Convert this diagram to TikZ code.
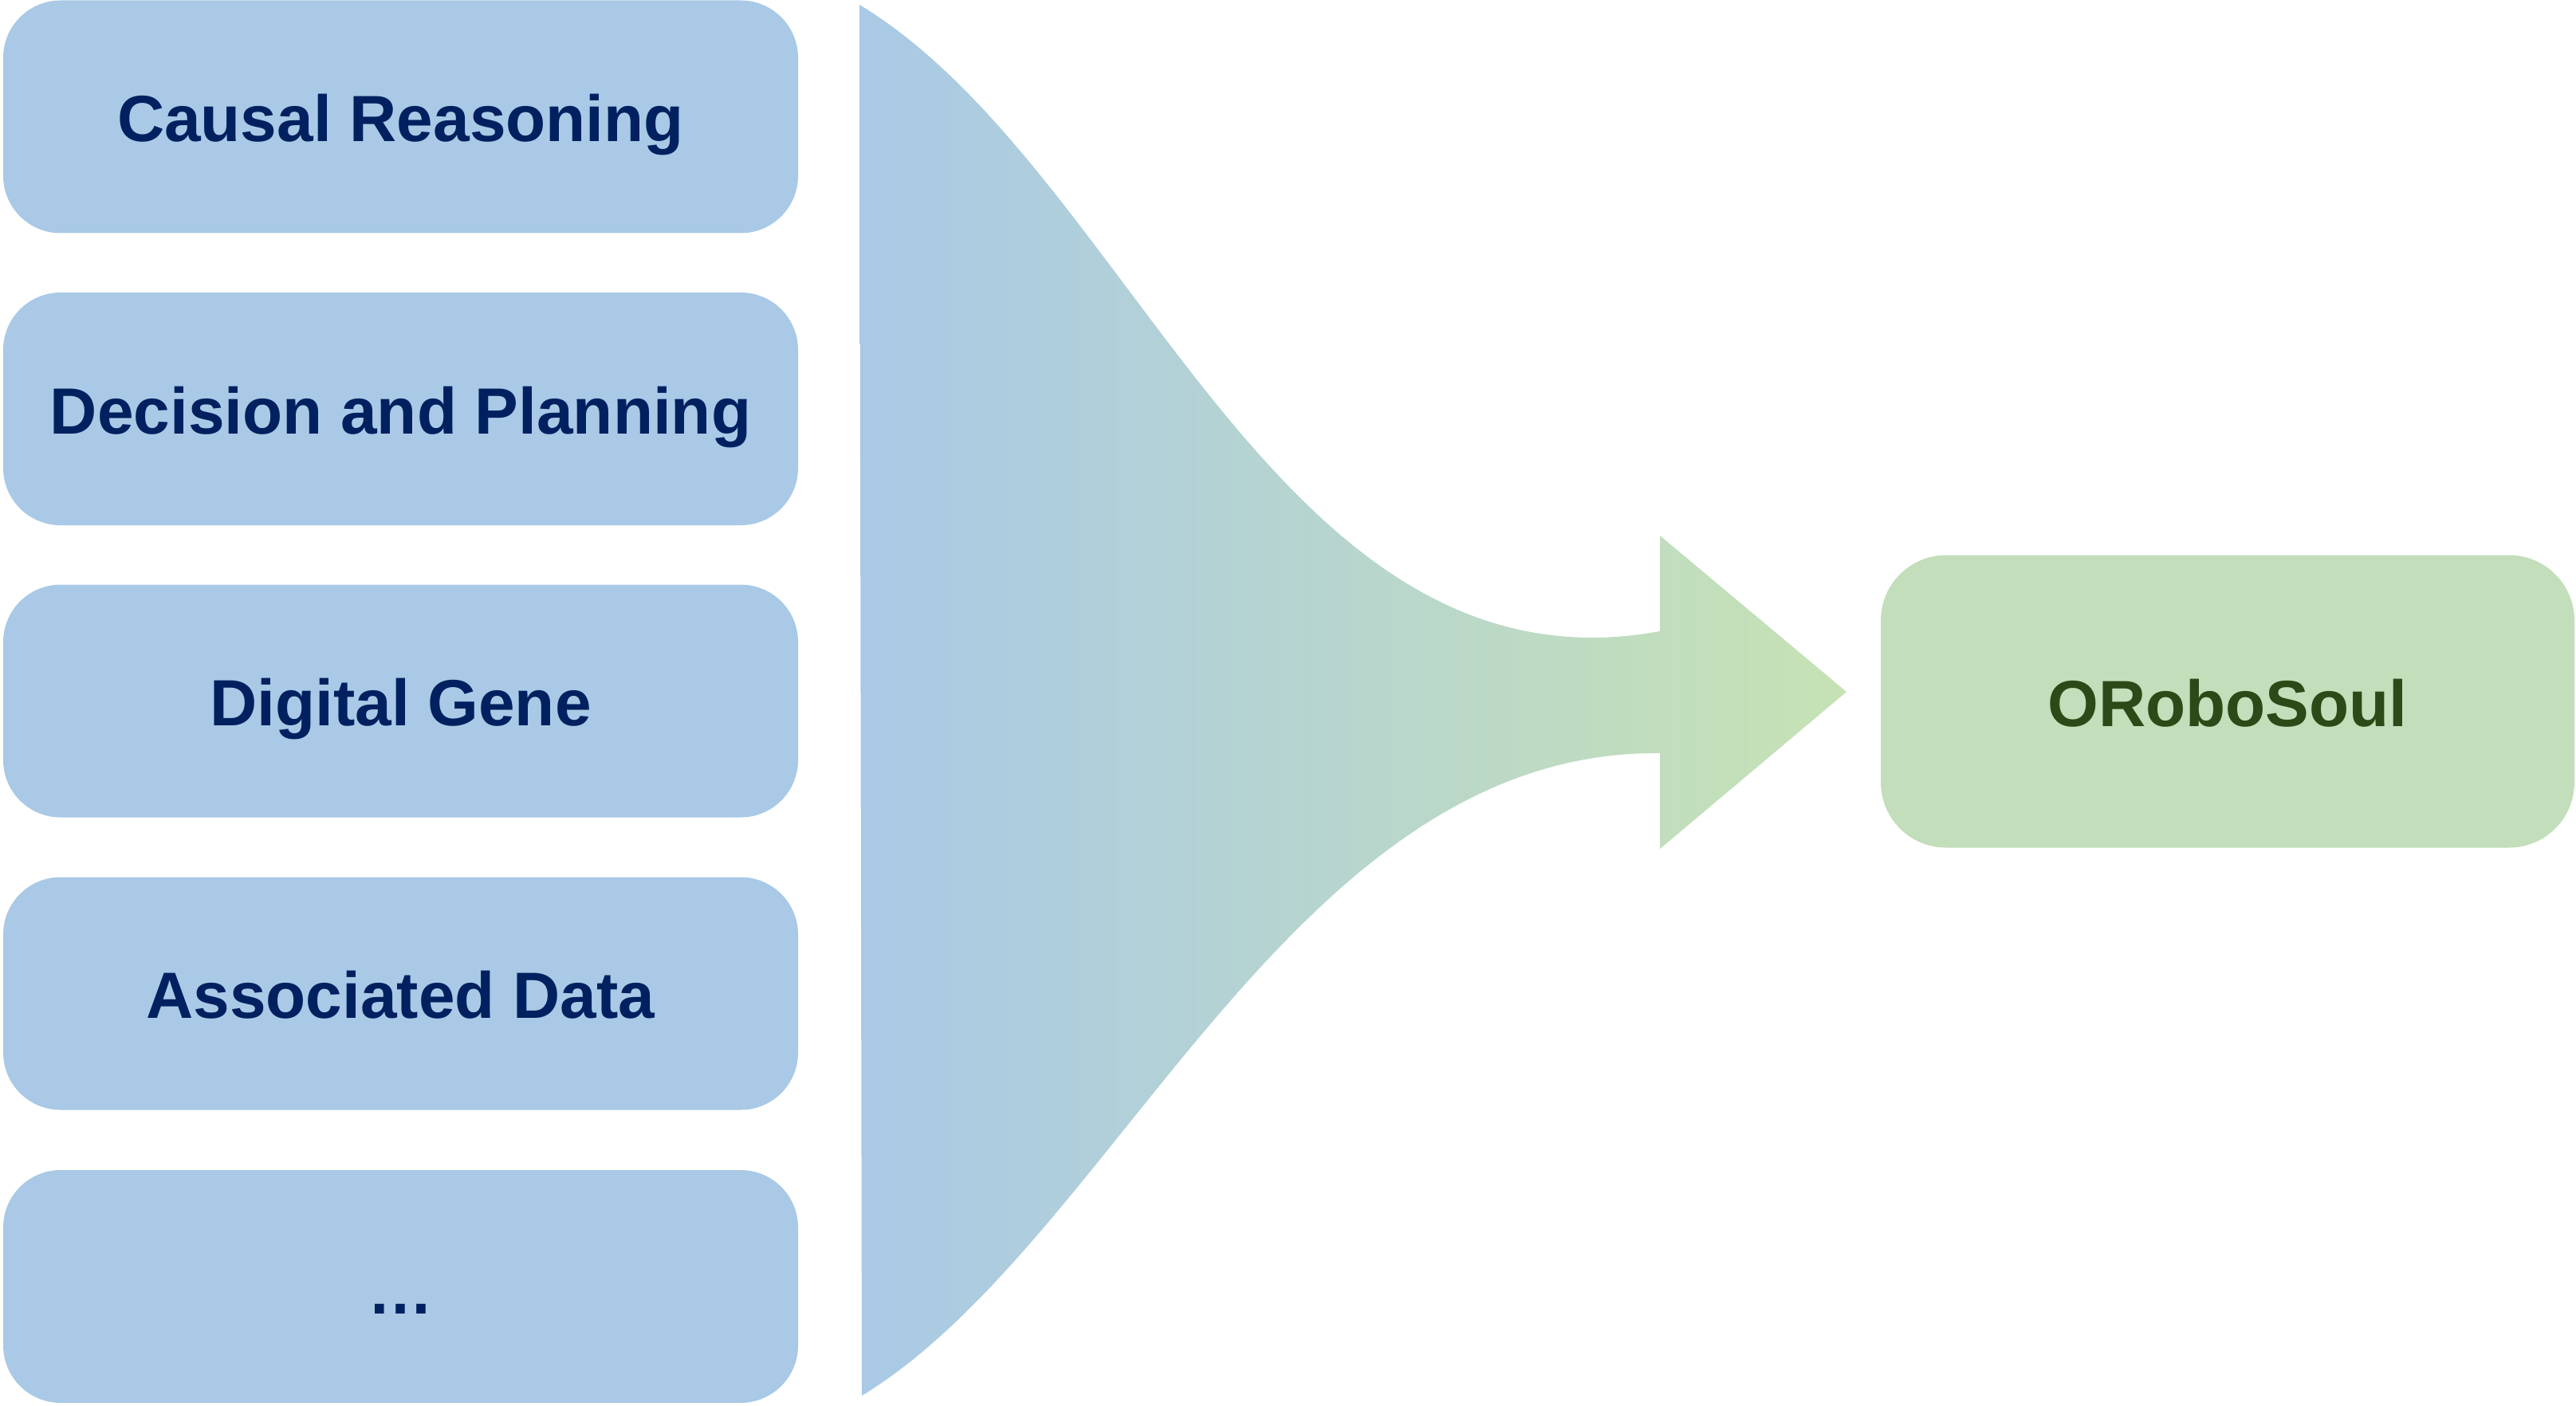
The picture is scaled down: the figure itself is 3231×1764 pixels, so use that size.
\documentclass[tikz,border=0pt]{standalone}
\usepackage{fontspec}
\setmainfont{Liberation Sans}
\definecolor{boxblue}{HTML}{A9C9E6}
\definecolor{boxgreen}{HTML}{C3DEBA}
\definecolor{arrowgreen}{HTML}{C6E2B4}
\definecolor{navytext}{HTML}{002060}
\definecolor{greentext}{HTML}{2A4A17}
\begin{document}
\begin{tikzpicture}[x=0.25pt,y=-0.25pt,
  inbox/.style={fill=boxblue, draw=none, rounded corners=18pt, inner sep=0pt,
    minimum width=249.25pt, minimum height=73pt, text height=15.5pt, text depth=0pt,
    font=\fontsize{20.5}{24}\selectfont\bfseries, text=navytext},
  outbox/.style={fill=boxgreen, draw=none, rounded corners=20.5pt, inner sep=0pt,
    minimum width=217.5pt, minimum height=91.75pt, text height=15.5pt, text depth=0pt,
    font=\fontsize{20.5}{24}\selectfont\bfseries, text=greentext}]
\useasboundingbox (0,0) rectangle (3231,1764);
\node[inbox] (b1) at (502.5,146.5) {Causal Reasoning};
\node[inbox] (b2) at (502.5,513) {Decision and Planning};
\node[inbox] (b3) at (502.5,879.5) {Digital Gene};
\node[inbox] (b4) at (502.5,1246.5) {Associated Data};
\node[inbox, text height=17pt] (b5) at (502.5,1614) {…};
\node[outbox] (out) at (2794,880) {ORoboSoul};
% funnel arrow
\coordinate (ftl) at (1078,6);
\coordinate (fbl) at (1081,1751);
\coordinate (st) at (2082,792);
\coordinate (sb) at (2082,945);
\coordinate (ht) at (2082,672);
\coordinate (hb) at (2082,1065);
\coordinate (tip) at (2316,868);
\shade[left color=boxblue, right color=arrowgreen]
  (ftl) .. controls (1420,212) and (1600,880) .. (st) -- (ht) -- (tip) -- (hb) -- (sb)
  .. controls (1620,940) and (1400,1557) .. (fbl) -- cycle;
\end{tikzpicture}
\end{document}
